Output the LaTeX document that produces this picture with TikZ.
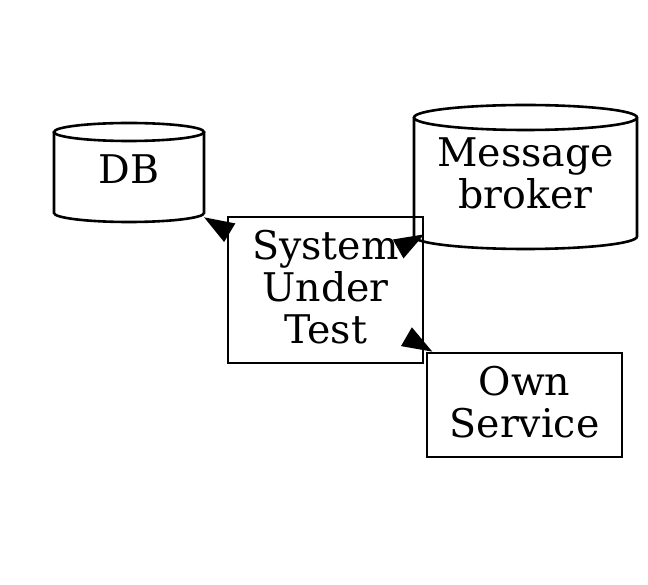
\documentclass[tikz,border=0pt]{standalone}
\usepackage{fontspec}
\setmainfont{DejaVu Serif}
\usetikzlibrary{arrows.meta,calc}
\newcommand{\lowfix}{\rule[-7pt]{0pt}{7pt}}
\tikzset{
	box/.style={draw,rectangle,inner sep=0pt,minimum width=195pt,align=center},
	drum/.style={rectangle,inner sep=0pt,outer sep=0pt,align=center},
	arr/.style={-{Triangle[length=30pt,width=21pt]}},
}
\begin{document}
\begin{tikzpicture}[x=1pt,y=1pt,font=\fontsize{39.5}{42}\selectfont,line width=2.6pt]
	\useasboundingbox (0,0) rectangle (648,584);
	\node[drum,minimum width=150pt,minimum height=99pt] (db) at (129,411.5) {DB\lowfix};
	\node[drum,minimum width=223pt,minimum height=144pt] (broker) at (525.5,407) {Message\\broker\lowfix};
	\node[box,minimum height=146pt] (sut) at (325.5,294) {System\\Under\\Test\lowfix};
	\node[box,minimum height=104pt] (own) at (524.5,179) {Own\\Service\lowfix};
	% cylinders
	\draw ($(db.north)+(0,-9)$) ellipse [x radius=75, y radius=9];
	\draw ($(db.north west)+(0,-9)$) -- ($(db.south west)+(0,9)$)
		arc [start angle=180, end angle=360, x radius=75, y radius=9] -- ($(db.north east)+(0,-9)$);
	\draw ($(broker.north)+(0,-12.5)$) ellipse [x radius=111.5, y radius=12.5];
	\draw ($(broker.north west)+(0,-12.5)$) -- ($(broker.south west)+(0,12.5)$)
		arc [start angle=180, end angle=360, x radius=111.5, y radius=12.5] -- ($(broker.north east)+(0,-12.5)$);
	% edges
	\draw[arr] (sut) -- (db);
	\draw[arr] (broker) -- (sut);
	\draw[arr] (sut) -- (own);
\end{tikzpicture}
\end{document}
